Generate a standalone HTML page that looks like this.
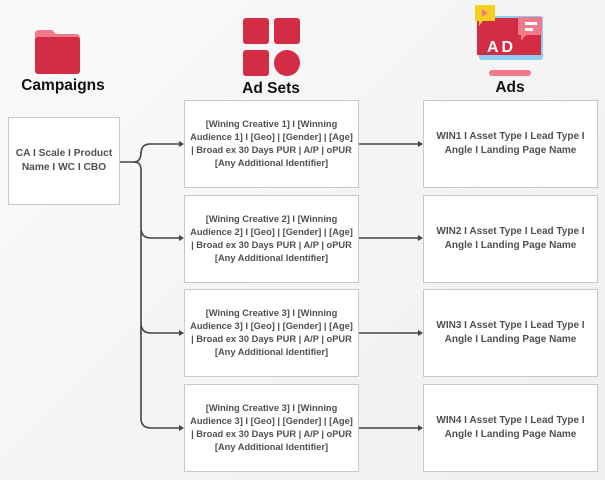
<!DOCTYPE html>
<html><head><style>
body{margin:0;width:605px;height:480px;background:linear-gradient(135deg,#fafafa,#efefef);font-family:"Liberation Sans",sans-serif;position:relative;overflow:hidden}
.b{position:absolute;background:#fff;border:1px solid #c8c8c8;box-sizing:border-box;display:flex;align-items:center;justify-content:center;text-align:center;color:#505050;font-weight:bold;font-size:9.3px;line-height:12.8px}
.a{font-size:10px;line-height:14px}
.h{position:absolute;font-weight:bold;font-size:15.5px;color:#111;transform:translateX(-50%)}
</style></head><body>
<svg width="605" height="480" style="position:absolute;left:0;top:0">
<path d="M35 34 q0-4 4-4 h13 l4 4 h20 q4 0 4 4 v4 h-45z" fill="#f07a8a"/>
<rect x="35" y="37" width="45" height="37" rx="3" fill="#d42c45"/>
<rect x="243" y="18" width="26" height="26" rx="3" fill="#d42c45"/>
<rect x="274" y="18" width="26" height="26" rx="3" fill="#d42c45"/>
<rect x="243" y="50" width="26" height="26" rx="3" fill="#d42c45"/>
<circle cx="287" cy="63" r="13" fill="#d42c45"/>
<rect x="479" y="16" width="64" height="44" rx="3" fill="#8ecdf2"/>
<rect x="477" y="18" width="64" height="37" fill="#d42c45"/>
<rect x="489" y="70" width="42" height="6" rx="3" fill="#f07a8a"/>
<path d="M475 5 h20 v16 h-12 l-4 5 v-5 h-4z" fill="#f5d020"/>
<path d="M482 9 l6 4 -6 4z" fill="#f07a8a"/>
<path d="M518 17 h24 v18 h-16 l-5 6 v-6 h-3z" fill="#f07a8a"/>
<rect x="525" y="22" width="12" height="3" fill="#fff"/><rect x="525" y="28" width="8" height="3" fill="#fff"/>
<text x="487" y="52" font-family="Liberation Sans" font-weight="bold" font-size="16" fill="#fff" letter-spacing="3">AD</text>
<g fill="none" stroke="#444" stroke-width="1.6">
<path d="M120 162 H134 Q141 162 141 152 V154 Q141 144 150 144 H180"/>
<path d="M134 162 Q141 162 141 170 V228 Q141 238 151 238 H180"/>
<path d="M141 230 V323 Q141 333 151 333 H180"/>
<path d="M141 325 V418 Q141 428 151 428 H180"/>
<path d="M358 144 H418"/><path d="M358 238 H418"/><path d="M358 333 H418"/><path d="M358 428 H418"/>
</g>
<g fill="#444">
<path d="M184 144 l-5 -3 v6z"/><path d="M184 238 l-5 -3 v6z"/><path d="M184 333 l-5 -3 v6z"/><path d="M184 428 l-5 -3 v6z"/>
<path d="M423 144 l-5 -3 v6z"/><path d="M423 238 l-5 -3 v6z"/><path d="M423 333 l-5 -3 v6z"/><path d="M423 428 l-5 -3 v6z"/>
</g>
</svg>
<div class="h" style="left:63px;top:77px">Campaigns</div>
<div class="h" style="left:271px;top:80px">Ad Sets</div>
<div class="h" style="left:510px;top:79px">Ads</div>
<div class="b" style="left:8px;top:117px;width:112px;height:88px;font-size:10.2px;line-height:14px">CA I Scale I Product<br>Name I WC I CBO</div>
<div class="b" style="left:184px;top:100px;width:175px;height:88px">[Wining Creative 1] I [Winning<br>Audience 1] I [Geo] | [Gender] | [Age]<br>| Broad ex 30 Days PUR | A/P | oPUR<br>[Any Additional Identifier]</div>
<div class="b" style="left:184px;top:195px;width:175px;height:88px">[Wining Creative 2] I [Winning<br>Audience 2] I [Geo] | [Gender] | [Age]<br>| Broad ex 30 Days PUR | A/P | oPUR<br>[Any Additional Identifier]</div>
<div class="b" style="left:184px;top:289px;width:175px;height:88px">[Wining Creative 3] I [Winning<br>Audience 3] I [Geo] | [Gender] | [Age]<br>| Broad ex 30 Days PUR | A/P | oPUR<br>[Any Additional Identifier]</div>
<div class="b" style="left:184px;top:384px;width:175px;height:88px">[Wining Creative 3] I [Winning<br>Audience 3] I [Geo] | [Gender] | [Age]<br>| Broad ex 30 Days PUR | A/P | oPUR<br>[Any Additional Identifier]</div>
<div class="b a" style="left:423px;top:100px;width:175px;height:88px">WIN1 I Asset Type I Lead Type I<br>Angle I Landing Page Name</div>
<div class="b a" style="left:423px;top:195px;width:175px;height:88px">WIN2 I Asset Type I Lead Type I<br>Angle I Landing Page Name</div>
<div class="b a" style="left:423px;top:289px;width:175px;height:88px">WIN3 I Asset Type I Lead Type I<br>Angle I Landing Page Name</div>
<div class="b a" style="left:423px;top:384px;width:175px;height:88px">WIN4 I Asset Type I Lead Type I<br>Angle I Landing Page Name</div>
</body></html>
